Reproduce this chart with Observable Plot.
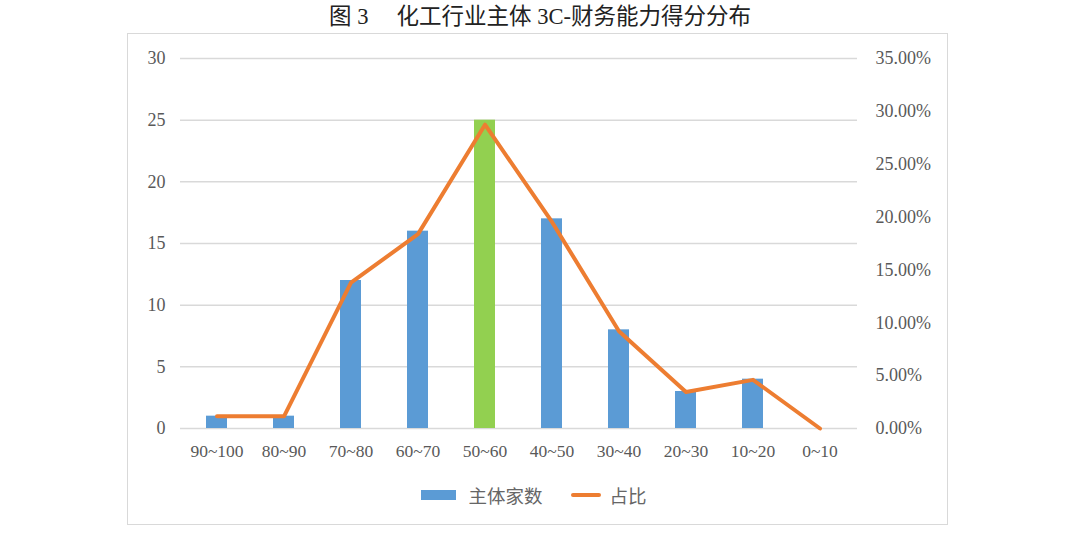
<!DOCTYPE html>
<html><head><meta charset="utf-8">
<script src="https://cdn.jsdelivr.net/npm/d3@7"></script>
<script src="https://cdn.jsdelivr.net/npm/@observablehq/plot@0.6"></script>
<style>
html,body{margin:0;padding:0;background:#fff;}
#page{position:relative;width:1080px;height:539px;overflow:hidden;background:#fff;}
#title{position:absolute;left:0;top:1px;width:1080px;height:33px;line-height:32px;text-align:center;font-family:"Liberation Serif","Noto Sans CJK SC",serif;font-size:22.5px;color:#222;white-space:pre;}
#box{position:absolute;left:127px;top:33px;width:821px;height:492px;border:1.5px solid #d9d9d9;box-sizing:border-box;}
#chart{position:absolute;left:0;top:33px;}
#legend{position:absolute;left:-6px;top:481px;width:1080px;height:28px;display:flex;justify-content:center;align-items:center;font-family:"Noto Sans CJK SC",sans-serif;font-size:18.5px;color:#666;}
.sw{display:inline-block;}
</style></head>
<body>
<div id="page">
<div id="title">图 3　 化工行业主体 3C-财务能力得分分布</div>
<div id="box"></div>
<div id="chart"></div>
<div id="legend">
  <span class="sw" style="width:35px;height:10px;background:#5B9BD5;margin-right:12px;"></span><span>主体家数</span>
  <span class="sw" style="width:30px;height:4px;background:#ED7D31;border-radius:2px;margin-left:28px;margin-right:9px;"></span><span>占比</span>
</div>
</div>
<script>
const categories = ["90~100","80~90","70~80","60~70","50~60","40~50","30~40","20~30","10~20","0~10"];
const counts = [1,1,12,16,25,17,8,3,4,0];
const shares = [1.15,1.15,13.79,18.39,28.74,19.54,9.20,3.45,4.60,0.00];
const highlight = "50~60";
const leftTicks = [0,5,10,15,20,25,30];
const rightTicks = [0,5,10,15,20,25,30,35];
const leftMax = 30, rightMax = 35;
const toLeft = p => p * leftMax / rightMax;

const rows = categories.map((c, i) => ({cat: c, count: counts[i], share: shares[i], shareY: toLeft(shares[i])}));

const plot = Plot.plot({
  width: 1080, height: 437,
  marginTop: 25, marginBottom: 42, marginLeft: 180, marginRight: 223,
  style: {fontFamily: "'Liberation Serif', serif", fontSize: "17px", color: "#595959", background: "transparent"},
  x: {domain: categories, paddingInner: 0.68, paddingOuter: 0.34, label: null},
  y: {domain: [0, leftMax], label: null},
  marks: [
    Plot.ruleY(leftTicks, {stroke: "#d9d9d9", strokeWidth: 1.5}),
    Plot.barY(rows, {x: "cat", y: "count", fill: d => d.cat === highlight ? "#92D050" : "#5B9BD5"}),
    Plot.lineY(rows, {x: "cat", y: "shareY", stroke: "#ED7D31", strokeWidth: 4, strokeLinejoin: "round", strokeLinecap: "round"}),
    Plot.axisY(leftTicks, {anchor: "left", tickSize: 0, tickPadding: 15, label: null, fontSize: 18}),
    Plot.axisY(rightTicks.map(toLeft), {anchor: "right", tickSize: 0, tickPadding: 18, label: null, fontSize: 18,
      tickFormat: d => (d * rightMax / leftMax).toFixed(2) + "%"}),
    Plot.axisX({tickSize: 0, tickPadding: 16, label: null, fontSize: 17.5})
  ]
});
document.getElementById("chart").appendChild(plot);
</script>
</body></html>
